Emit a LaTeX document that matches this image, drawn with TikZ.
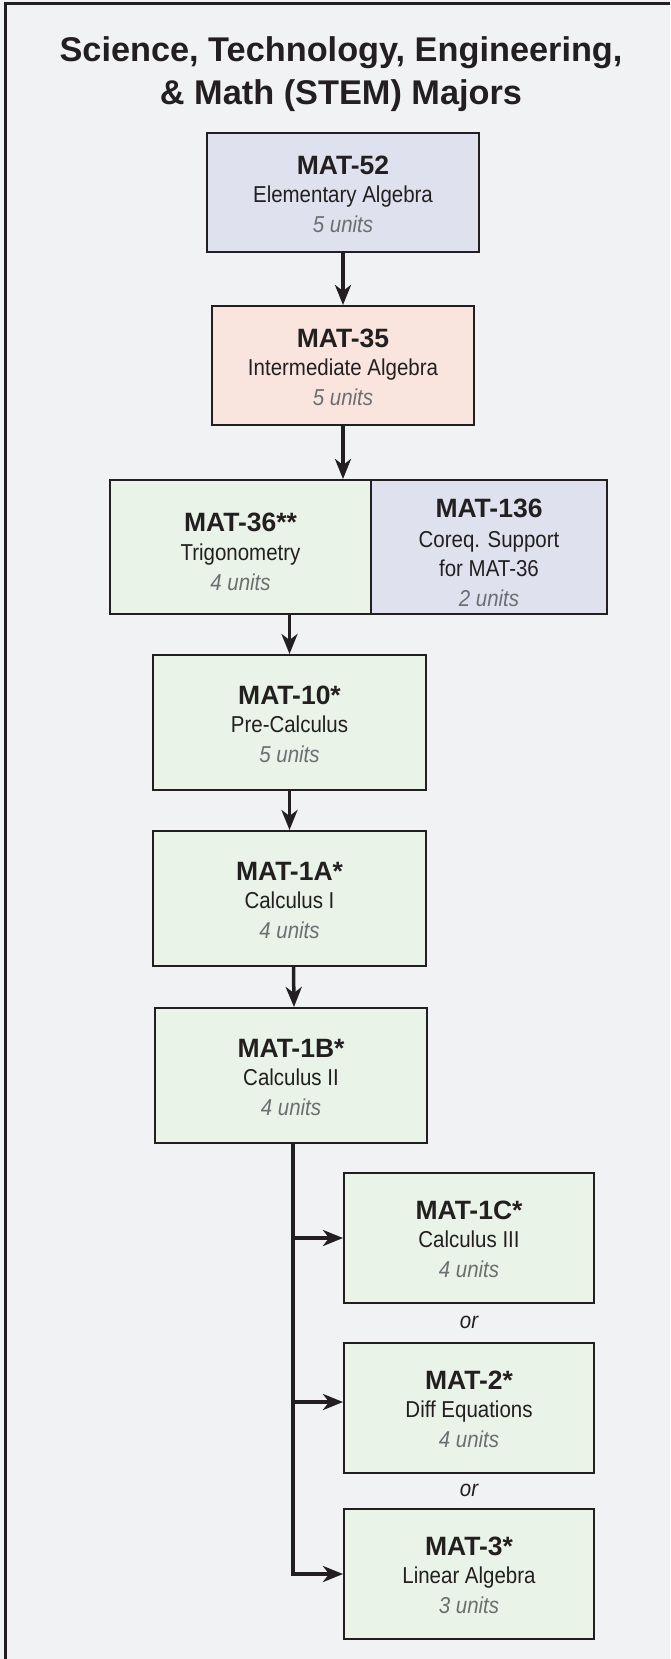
\documentclass[tikz,border=0pt]{standalone}
\usepackage{fontspec}
\setmainfont{Liberation Sans}
\newfontfamily\narrowfont[FakeStretch=0.89]{Liberation Sans}
\usetikzlibrary{arrows.meta}
\definecolor{bgcol}{HTML}{F1F2F4}
\definecolor{inkcol}{HTML}{231F20}
\definecolor{unitgray}{HTML}{6D6E71}
\definecolor{lavcol}{HTML}{DFE1EE}
\definecolor{peachcol}{HTML}{F9E5DE}
\definecolor{greencol}{HTML}{E9F3E7}
\newcommand\course[3]{{\normalfont\bfseries\fontsize{26.5}{30}\selectfont\rule{0pt}{22pt}#1}\\[-2pt]#2\\{\itshape\color{unitgray}#3}}
\tikzset{
  box/.style={draw=inkcol, line width=2pt, inner sep=0pt, align=center, text=inkcol,
    font=\narrowfont\fontsize{23}{30}\selectfont},
  greenbox/.style={box, fill=greencol, minimum width=273pt, minimum height=135pt},
  smallbox/.style={box, fill=greencol, minimum width=250pt, minimum height=130pt},
  conn/.style={draw=inkcol, line width=3.5pt, -{Stealth[length=20pt,width=16pt,inset=6pt]}},
  orlabel/.style={text=inkcol, font=\narrowfont\itshape\fontsize{23}{28}\selectfont, inner sep=0pt}
}
\begin{document}
\begin{tikzpicture}[x=1pt,y=-1pt]
\useasboundingbox (0,0) rectangle (670,1659);
\fill[bgcol] (0,0) rectangle (670,1659);
\draw[inkcol, line width=2.5pt] (5.5,1659) -- (5.5,3.5) -- (670,3.5);

\node[text=inkcol, font=\bfseries\fontsize{34.3}{43}\selectfont, align=center] (title) at (341,74)
  {Science, Technology, Engineering,\\\& Math (STEM) Majors};

\node[box, fill=lavcol, minimum width=272pt, minimum height=119pt] (MAT52) at (343,192.5)
  {\course{MAT-52}{Elementary Algebra}{5 units}};
\node[box, fill=peachcol, minimum width=262pt, minimum height=119pt] (MAT35) at (343,365.5)
  {\course{MAT-35}{Intermediate Algebra}{5 units}};
\node[box, fill=greencol, minimum width=261pt, minimum height=134pt] (MAT36) at (240.5,547)
  {{\normalfont\bfseries\fontsize{26.5}{30}\selectfont\rule{0pt}{28pt}MAT-36**}\\[-1pt]Trigonometry\\{\itshape\color{unitgray}4 units}};
\node[box, fill=lavcol, minimum width=236pt, minimum height=134pt,
  font=\narrowfont\fontsize{23}{29.5}\selectfont] (MAT136) at (489,547)
  {{\normalfont\bfseries\fontsize{26.5}{30}\selectfont\rule{0pt}{30pt}MAT-136}\\Coreq. Support\\for MAT-36\\{\itshape\color{unitgray}2 units}};
\node[greenbox] (MAT10) at (289.5,722.5) {\course{MAT-10*}{Pre-Calculus}{5 units}};
\node[greenbox] (MAT1A) at (289.5,898.5) {\course{MAT-1A*}{Calculus I}{4 units}};
\node[greenbox, minimum width=272pt] (MAT1B) at (291,1075.5) {\course{MAT-1B*}{Calculus II}{4 units}};
\node[smallbox] (MAT1C) at (469,1238) {\course{MAT-1C*}{Calculus III}{4 units}};
\node[smallbox] (MAT2) at (469,1408) {\course{MAT-2*}{Diff Equations}{4 units}};
\node[smallbox] (MAT3) at (469,1574) {\course{MAT-3*}{Linear Algebra}{3 units}};

\node[orlabel] (or1) at (469,1322) {or};
\node[orlabel] (or2) at (469,1490) {or};

\draw[conn] (MAT52.south) -- (MAT35.north);
\draw[conn] (MAT35.south) -- (MAT35.south |- MAT36.north);
\draw[conn] (MAT10.north |- MAT36.south) -- (MAT10.north);
\draw[conn] (MAT10.south) -- (MAT1A.north);
\draw[conn] ([xshift=4pt]MAT1A.south) -- ([xshift=3pt]MAT1B.north);
\coordinate (trunk) at ([xshift=2pt]MAT1B.south);
\draw[conn] (trunk) |- (MAT3.west);
\draw[conn] (trunk |- MAT1C.west) -- (MAT1C.west);
\draw[conn] ([yshift=6pt]trunk |- MAT2.west) -- ([yshift=6pt]MAT2.west);
\end{tikzpicture}
\end{document}
